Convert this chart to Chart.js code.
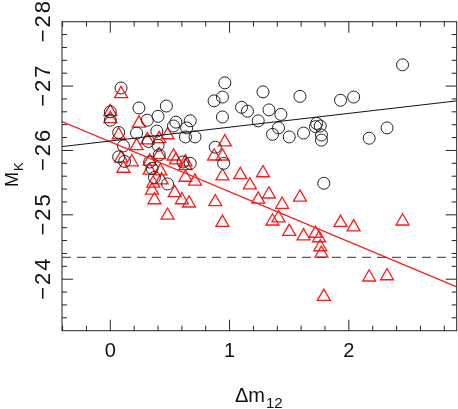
<!DOCTYPE html>
<html><head><meta charset="utf-8">
<script src="https://cdn.jsdelivr.net/npm/chart.js@4/dist/chart.umd.min.js"></script>
<style>html,body{margin:0;padding:0;background:#fff;}</style>
</head><body>
<canvas id="c" width="458" height="409"></canvas>
<script>
// ---- data ----
const circleX = [0.09,0.00,0.00,0.24,0.31,0.40,0.47,0.55,0.53,0.67,0.64,0.22,0.07,0.39,0.63,0.71,0.11,0.40,0.88,0.07,0.12,0.41,0.33,0.61,0.67,0.95,0.35,0.37,0.48,0.94,0.87,0.96,0.94,1.10,1.15,1.28,1.59,1.93,2.04,2.45,1.33,1.43,1.24,1.41,1.36,1.50,1.62,1.73,1.72,1.76,1.77,1.77,2.17,2.32,1.79,0.32];
const circleY = [-26.97,-26.60,-26.47,-26.66,-26.47,-26.53,-26.69,-26.44,-26.38,-26.46,-26.35,-26.27,-26.28,-26.30,-26.21,-26.21,-26.07,-26.08,-26.05,-25.90,-25.83,-25.93,-25.82,-25.82,-25.80,-25.80,-25.72,-25.58,-25.48,-26.83,-26.77,-27.05,-26.52,-26.67,-26.61,-26.91,-26.84,-26.78,-26.83,-27.33,-26.63,-26.56,-26.46,-26.35,-26.25,-26.21,-26.27,-26.42,-26.37,-26.38,-26.24,-26.16,-26.19,-26.35,-25.49,-26.14];
const triangleX = [0.09,0.00,0.00,0.24,0.07,0.31,0.41,0.48,0.22,0.96,0.09,0.11,0.33,0.41,0.53,0.55,0.63,0.63,0.87,0.94,0.42,0.33,0.18,0.36,0.43,0.35,0.37,0.54,0.60,0.66,0.63,0.71,0.48,0.88,0.94,0.94,1.09,1.17,1.28,1.33,1.24,1.44,1.59,1.41,1.36,1.50,1.62,1.72,1.75,1.76,1.77,1.93,2.04,2.45,2.17,2.32,1.79];
const triangleY = [-26.88,-26.60,-26.49,-26.42,-26.24,-26.16,-26.18,-26.24,-26.07,-26.13,-25.88,-25.72,-25.83,-25.93,-25.91,-25.85,-25.82,-25.76,-25.91,-25.91,-25.68,-25.69,-25.82,-25.49,-25.54,-25.38,-25.23,-25.34,-25.23,-25.18,-25.58,-25.52,-24.99,-25.20,-24.88,-25.60,-25.62,-25.46,-25.65,-25.32,-25.24,-25.16,-25.27,-24.95,-24.90,-24.74,-24.67,-24.71,-24.64,-24.50,-24.40,-24.88,-24.81,-24.90,-24.03,-24.05,-23.73];
const fitX = [-0.405, 2.904];
const blackFitY = [-26.06, -26.77];
const redFitY = [-26.45, -23.88];
const dashY = [-24.34, -24.34];
const xTickValues = [0, 1, 2];
const xTickLabels = ['0', '1', '2'];
const yTickValues = [-28, -27, -26, -25, -24];
const yTickLabels = ['\u221228', '\u221227', '\u221226', '\u221225', '\u221224'];
const xTitle = '\u0394m', xTitleSub = '12';
const yTitle = 'M', yTitleSub = 'K';

const pts = (xs, ys) => xs.map((v, i) => ({x: v, y: ys[i]}));

const frame = {
  id: 'frame',
  afterDraw(chart) {
    const {ctx, chartArea: a, scales: {x, y}} = chart;
    ctx.save();
    ctx.strokeStyle = '#222';
    ctx.fillStyle = '#111';
    ctx.lineWidth = 1;
    ctx.strokeRect(a.left, a.top, a.right - a.left, a.bottom - a.top);
    ctx.beginPath();
    for (let k = -2; k <= 14; k++) {
      const v = k * 0.2;
      const px = x.getPixelForValue(v);
      if (px <= a.left || px >= a.right) continue;
      const len = (k % 5 === 0) ? 11 : 5;
      ctx.moveTo(px, a.bottom); ctx.lineTo(px, a.bottom - len);
      ctx.moveTo(px, a.top); ctx.lineTo(px, a.top + len);
    }
    for (let k = -140; k <= -116; k++) {
      const v = k * 0.2;
      const py = y.getPixelForValue(v);
      if (py <= a.top + 0.5 || py >= a.bottom - 0.5) continue;
      const len = (k % 5 === 0) ? 11 : 5;
      ctx.moveTo(a.left, py); ctx.lineTo(a.left + len, py);
      ctx.moveTo(a.right, py); ctx.lineTo(a.right - len, py);
    }
    ctx.stroke();

    ctx.font = '20px "Liberation Sans", Arial, sans-serif';
    ctx.textAlign = 'center';
    ctx.textBaseline = 'alphabetic';
    xTickValues.forEach((v, i) => ctx.fillText(xTickLabels[i], x.getPixelForValue(v), 357));

    yTickValues.forEach((v, i) => {
      ctx.save();
      ctx.translate(50, y.getPixelForValue(v));
      ctx.rotate(-Math.PI / 2);
      ctx.font = '22px "Liberation Sans", Arial, sans-serif';
      ctx.letterSpacing = '2px';
      ctx.textAlign = 'center';
      ctx.fillText(yTickLabels[i], 1, 0);
      ctx.restore();
    });

    // x title
    ctx.textAlign = 'left';
    ctx.font = '20px "Liberation Sans", Arial, sans-serif';
    ctx.fillText(xTitle, 235, 402);
    const w1 = ctx.measureText(xTitle).width;
    ctx.font = '15px "Liberation Sans", Arial, sans-serif';
    ctx.fillText(xTitleSub, 235 + w1 + 1, 408);

    // y title
    ctx.save();
    ctx.translate(18, 187);
    ctx.rotate(-Math.PI / 2);
    ctx.font = '18px "Liberation Sans", Arial, sans-serif';
    ctx.fillText(yTitle, 0, 0);
    const w2 = ctx.measureText(yTitle).width;
    ctx.font = '13px "Liberation Sans", Arial, sans-serif';
    ctx.fillText(yTitleSub, w2 + 1, 5);
    ctx.restore();
    ctx.restore();
  }
};

new Chart(document.getElementById('c'), {
  type: 'scatter',
  data: {
    datasets: [
      {data: pts(fitX, dashY), showLine: true, borderColor: '#333', borderWidth: 1, borderDash: [9, 6], pointRadius: 0},
      {data: pts(fitX, blackFitY), showLine: true, borderColor: '#111', borderWidth: 1, pointRadius: 0},
      {data: pts(fitX, redFitY), showLine: true, borderColor: '#ff1a1a', borderWidth: 1.2, pointRadius: 0},
      {data: pts(circleX, circleY), pointStyle: 'circle', pointRadius: 6, borderColor: '#222', backgroundColor: 'rgba(0,0,0,0)', borderWidth: 1},
      {data: pts(triangleX, triangleY), pointStyle: 'triangle', pointRadius: 7.5, borderColor: '#ff1a1a', backgroundColor: 'rgba(0,0,0,0)', borderWidth: 1.3}
    ]
  },
  options: {
    responsive: false, animation: false, devicePixelRatio: 1,
    layout: {autoPadding: false, padding: {left: 62, right: 1.3, top: 21.7, bottom: 78.3}},
    plugins: {legend: {display: false}, tooltip: {enabled: false}},
    scales: {
      x: {type: 'linear', min: -0.405, max: 2.904, display: false},
      y: {type: 'linear', reverse: true, min: -28, max: -23.2, display: false}
    }
  },
  plugins: [frame]
});
</script>
</body></html>
